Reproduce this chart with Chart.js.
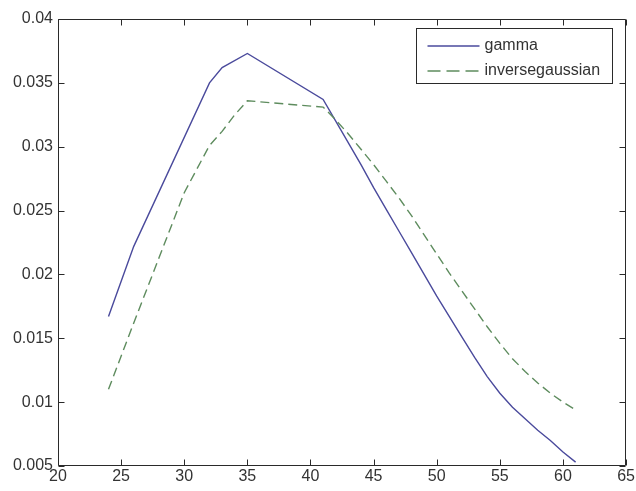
<!DOCTYPE html>
<html>
<head>
<meta charset="utf-8">
<script src="https://cdn.jsdelivr.net/npm/chart.js@4.4.1/dist/chart.umd.min.js"></script>
<style>
html,body{margin:0;padding:0;background:#fff;}
#wrap{width:636px;height:491px;position:relative;background:#fff;}
</style>
</head>
<body>
<div id="wrap"><canvas id="c" width="636" height="491"></canvas></div>
<script>
// ---- data ----
const seriesNames = ['gamma', 'inversegaussian'];

const gammaX = [24, 26, 32, 33, 35, 41, 42, 43, 44, 45, 46, 47, 48, 49, 50, 51, 52, 53, 54, 55, 56, 57, 58, 59, 60, 61];
const gammaY = [0.0167, 0.0222, 0.0350, 0.0362, 0.0373, 0.0337, 0.0320, 0.0303, 0.0286, 0.0268, 0.0251, 0.0234, 0.0217, 0.0200, 0.0183, 0.0167, 0.0151, 0.0135, 0.0120, 0.0107, 0.0096, 0.0087, 0.0078, 0.0070, 0.0061, 0.0053];

const igX = [24, 26, 28, 30, 32, 33, 34, 35, 41, 42, 43, 44, 45, 46, 47, 48, 49, 50, 51, 52, 53, 54, 55, 56, 57, 58, 59, 60, 61];
const igY = [0.0110, 0.0162, 0.0213, 0.0264, 0.0301, 0.0312, 0.0325, 0.0336, 0.0331, 0.0321, 0.0310, 0.0298, 0.0286, 0.0273, 0.0260, 0.0246, 0.0231, 0.0216, 0.0201, 0.0187, 0.0173, 0.0159, 0.0146, 0.0134, 0.0124, 0.0115, 0.0107, 0.0100, 0.0094];

const xTicks = [20, 25, 30, 35, 40, 45, 50, 55, 60, 65];
const xTickLabels = ['20', '25', '30', '35', '40', '45', '50', '55', '60', '65'];
const yTicks = [0.005, 0.01, 0.015, 0.02, 0.025, 0.03, 0.035, 0.04];
const yTickLabels = ['0.005', '0.01', '0.015', '0.02', '0.025', '0.03', '0.035', '0.04'];

// ---- helpers ----
function toPoints(xs, ys) { return xs.map((x, i) => ({ x: x, y: ys[i] })); }
function labelFor(ticks, labels, v) {
  for (let i = 0; i < ticks.length; i++) if (Math.abs(ticks[i] - v) < 1e-9) return labels[i];
  return '';
}

const FONT = "'Liberation Sans', Arial, sans-serif";
const AXIS_COLOR = '#2a2a2a';
const TEXT_COLOR = '#333333';

// frame + inward ticks on all four sides (MATLAB-style box)
const framePlugin = {
  id: 'frame',
  afterDatasetsDraw(chart) {
    const { ctx, chartArea: a, scales } = chart;
    const xs = scales.x, ys = scales.y;
    const L = Math.round(a.left) + 0.5, R = Math.round(a.right) - 0.5;
    const T = Math.round(a.top) + 0.5, B = Math.round(a.bottom) - 0.5;
    const tl = 6;
    ctx.save();
    ctx.strokeStyle = AXIS_COLOR;
    ctx.lineWidth = 1;
    ctx.beginPath();
    ctx.rect(L, T, R - L, B - T);
    xTicks.forEach(v => {
      const px = Math.round(xs.getPixelForValue(v)) + 0.5;
      ctx.moveTo(px, B); ctx.lineTo(px, B - tl);
      ctx.moveTo(px, T); ctx.lineTo(px, T + tl);
    });
    yTicks.forEach(v => {
      const py = Math.round(ys.getPixelForValue(v)) + 0.5;
      ctx.moveTo(L, py); ctx.lineTo(L + tl, py);
      ctx.moveTo(R, py); ctx.lineTo(R - tl, py);
    });
    ctx.stroke();
    ctx.restore();
  }
};

// legend with box in upper-right of the axes
const legendPlugin = {
  id: 'boxLegend',
  afterDraw(chart) {
    const { ctx, chartArea: a } = chart;
    const w = 196, h = 55;
    const left = Math.round(a.right - 14 - w) + 0.5;
    const top = Math.round(a.top + 9) + 0.5;
    ctx.save();
    ctx.fillStyle = '#ffffff';
    ctx.fillRect(left, top, w, h);
    ctx.strokeStyle = AXIS_COLOR;
    ctx.lineWidth = 1;
    ctx.strokeRect(left, top, w, h);
    ctx.font = '16px ' + FONT;
    ctx.textBaseline = 'middle';
    ctx.textAlign = 'left';
    chart.data.datasets.forEach((ds, i) => {
      const cy = Math.round(top + 17 + i * 25);
      ctx.save();
      ctx.strokeStyle = ds.borderColor;
      ctx.lineWidth = ds.borderWidth;
      ctx.setLineDash(ds.borderDash ? [13, 6] : []);
      ctx.beginPath();
      ctx.moveTo(left + 11, cy);
      ctx.lineTo(left + 63, cy);
      ctx.stroke();
      ctx.restore();
      ctx.fillStyle = TEXT_COLOR;
      ctx.fillText(ds.label, left + 68, cy);
    });
    ctx.restore();
  }
};

const chart = new Chart(document.getElementById('c'), {
  type: 'line',
  data: {
    datasets: [
      {
        label: seriesNames[0],
        data: toPoints(gammaX, gammaY),
        borderColor: '#4a4a9c',
        borderWidth: 1.4,
        pointRadius: 0,
        tension: 0,
        fill: false,
        order: 1
      },
      {
        label: seriesNames[1],
        data: toPoints(igX, igY),
        borderColor: '#5e8c5e',
        borderWidth: 1.4,
        borderDash: [9, 5],
        pointRadius: 0,
        tension: 0,
        fill: false,
        order: 0
      }
    ]
  },
  options: {
    responsive: false,
    animation: false,
    devicePixelRatio: 1,
    layout: { padding: { top: 19, right: 9, bottom: 0, left: 0 } },
    plugins: {
      legend: { display: false },
      tooltip: { enabled: false }
    },
    scales: {
      x: {
        type: 'linear',
        min: 20, max: 65,
        grid: { display: false, drawTicks: false },
        border: { display: false },
        afterBuildTicks: s => { s.ticks = xTicks.map(v => ({ value: v })); },
        afterFit: s => { s.height = 25; },
        ticks: {
          padding: 1,
          color: TEXT_COLOR,
          font: { family: FONT, size: 16 },
          maxRotation: 0,
          autoSkip: false,
          callback: v => labelFor(xTicks, xTickLabels, v)
        }
      },
      y: {
        type: 'linear',
        min: 0.005, max: 0.04,
        grid: { display: false, drawTicks: false },
        border: { display: false },
        afterBuildTicks: s => { s.ticks = yTicks.map(v => ({ value: v })); },
        afterFit: s => { s.width = 58; },
        ticks: {
          padding: 5,
          color: TEXT_COLOR,
          font: { family: FONT, size: 16 },
          autoSkip: false,
          callback: v => labelFor(yTicks, yTickLabels, v)
        }
      }
    }
  },
  plugins: [framePlugin, legendPlugin]
});
</script>
</body>
</html>
